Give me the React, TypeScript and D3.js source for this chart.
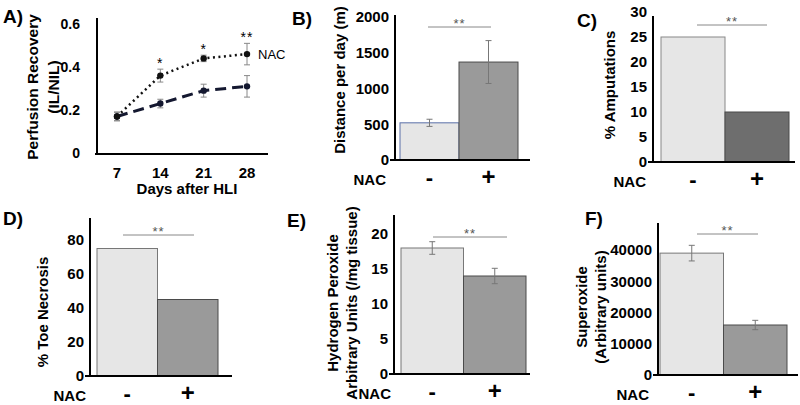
import React from "react";
import * as d3 from "d3";

// ---------- DATA ----------
const days = [7, 14, 21, 28];
const nacMean = [0.17, 0.36, 0.44, 0.46];
const nacErr = [0.02, 0.03, 0.015, 0.05];
const ctrlMean = [0.17, 0.23, 0.29, 0.31];
const ctrlErr = [0.02, 0.02, 0.03, 0.05];
const nacStars = ["", "*", "*", "**"];
const perfTicks = [0, 0.2, 0.4, 0.6];

const groups = ["-", "+"];
const distanceVals = [520, 1370];
const distanceErr = [50, 300];
const distanceTicks = [0, 500, 1000, 1500, 2000];

const amputVals = [25, 10];
const amputTicks = [0, 5, 10, 15, 20, 25, 30];

const necrosisVals = [75, 45];
const necrosisTicks = [0, 20, 40, 60, 80];

const h2o2Vals = [18, 14];
const h2o2Err = [0.9, 1.1];
const h2o2Ticks = [0, 5, 10, 15, 20];

const superoxVals = [39000, 16000];
const superoxErr = [2500, 1500];
const superoxTicks = [0, 10000, 20000, 30000, 40000];

const FONT = "'Liberation Sans', Arial, sans-serif";

type BarPanelProps = {
  letter: string;
  letterX: number;
  letterY: number;
  values: number[];
  errors?: number[];
  ticks: number[];
  yMax: number;
  axisX: number;
  axisTop: number;
  base: number;
  yAtMax: number;
  xEnd: number;
  barL: number;
  barR: number;
  darkFill: string;
  lightStroke: string;
  sig: [number, number, number];
  labels: string[];
  labelX: number[];
  labelY: number;
  nacX: number;
};

function BarPanel(p: BarPanelProps) {
  const y = d3.scaleLinear().domain([0, p.yMax]).range([p.base, p.yAtMax]);
  const x = d3.scaleBand<string>().domain(groups).range([p.barL, p.barR]).paddingInner(0);
  const fills = ["#e6e6e6", p.darkFill];
  const strokes = [p.lightStroke, "#4a4a4a"];
  return (
    <g>
      <text x={p.letterX} y={p.letterY} fontSize={19} fontWeight="bold" fontFamily={FONT}>{p.letter}</text>
      {groups.map((g, i) => (
        <rect key={g} x={x(g)!} y={y(p.values[i])} width={x.bandwidth()} height={p.base - y(p.values[i])}
          fill={fills[i]} stroke={strokes[i]} strokeWidth={1} />
      ))}
      {p.errors && groups.map((g, i) => {
        const cx = x(g)! + x.bandwidth() / 2;
        const y1 = y(p.values[i] + p.errors![i]);
        const y2 = y(p.values[i] - p.errors![i]);
        return (
          <g key={"e" + g} stroke="#777" strokeWidth={1}>
            <line x1={cx} x2={cx} y1={y1} y2={y2} />
            <line x1={cx - 3} x2={cx + 3} y1={y1} y2={y1} />
            <line x1={cx - 3} x2={cx + 3} y1={y2} y2={y2} />
          </g>
        );
      })}
      <line x1={p.axisX} x2={p.axisX} y1={p.axisTop} y2={p.base + 1} stroke="#000" strokeWidth={2} />
      <line x1={p.axisX - 5} x2={p.xEnd} y1={p.base} y2={p.base} stroke="#000" strokeWidth={2} />
      {p.ticks.map((t) => (
        <text key={t} x={p.axisX - 6} y={y(t)} dy="0.35em" textAnchor="end" fontSize={15} fontWeight="bold" fontFamily={FONT}>{d3.format("d")(t)}</text>
      ))}
      <line x1={p.sig[0]} x2={p.sig[1]} y1={p.sig[2]} y2={p.sig[2]} stroke="#888" strokeWidth={1} />
      <text x={(p.sig[0] + p.sig[1]) / 2} y={p.sig[2] + 1} textAnchor="middle" fontSize={13} fill="#555" fontFamily={FONT} letterSpacing={1}>**</text>
      {p.labels.map((l, i) => (
        <text key={i} transform={`translate(${p.labelX[i]},${p.labelY}) rotate(-90)`} textAnchor="middle" dy="0.35em"
          fontSize={15} fontWeight="bold" fontFamily={FONT}>{l}</text>
      ))}
      <text x={p.nacX} y={p.base + 25} textAnchor="end" fontSize={15} fontWeight="bold" fontFamily={FONT}>NAC</text>
      {groups.map((g) => (
        <text key={"l" + g} x={x(g)! + x.bandwidth() / 2} y={p.base + 25} textAnchor="middle" fontSize={g === "+" ? 24 : 22} fontWeight="bold" fontFamily={FONT}>{g}</text>
      ))}
    </g>
  );
}

function PanelA() {
  const x = d3.scaleLinear().domain([7, 28]).range([117, 247]);
  const y = d3.scaleLinear().domain([0, 0.6]).range([153, 24]);
  const line = d3.line<number>().x((_, i) => x(days[i])).y((v) => y(v));
  const navy = "#141830";
  const renderErr = (means: number[], errs: number[], key: string) =>
    means.map((m, i) => {
      const cx = x(days[i]);
      const y1 = y(m + errs[i]);
      const y2 = y(m - errs[i]);
      return (
        <g key={key + i} stroke="#888" strokeWidth={1}>
          <line x1={cx} x2={cx} y1={y1} y2={y2} />
          <line x1={cx - 3} x2={cx + 3} y1={y1} y2={y1} />
          <line x1={cx - 3} x2={cx + 3} y1={y2} y2={y2} />
        </g>
      );
    });
  return (
    <g>
      <text x={3} y={23} fontSize={19} fontWeight="bold" fontFamily={FONT}>A)</text>
      {renderErr(ctrlMean, ctrlErr, "c")}
      {renderErr(nacMean, nacErr, "n")}
      <path d={line(ctrlMean)!} fill="none" stroke={navy} strokeWidth={3} strokeDasharray="11,6" />
      <path d={line(nacMean)!} fill="none" stroke="#111" strokeWidth={2.5} strokeDasharray="2,3.5" />
      {ctrlMean.map((v, i) => (
        <circle key={"cc" + i} cx={x(days[i])} cy={y(v)} r={3.2} fill={navy} />
      ))}
      {nacMean.map((v, i) => (
        <circle key={"nc" + i} cx={x(days[i])} cy={y(v)} r={3.2} fill="#111" />
      ))}
      {nacStars.map((s, i) => (
        <text key={"s" + i} x={x(days[i])} y={y(nacMean[i] + nacErr[i]) - 1} textAnchor="middle" fontSize={14} fontFamily={FONT} letterSpacing={1}>{s}</text>
      ))}
      <text x={258} y={y(nacMean[3])} dy="0.35em" fontSize={13} fontFamily={FONT}>NAC</text>
      <line x1={97} x2={97} y1={18} y2={155} stroke="#000" strokeWidth={2} />
      <line x1={95} x2={268} y1={154} y2={154} stroke="#000" strokeWidth={2} />
      {perfTicks.map((t) => (
        <text key={t} x={80} y={y(t)} dy="0.35em" textAnchor="end" fontSize={14} fontWeight="bold" fontFamily={FONT}>{t === 0 ? "0" : d3.format(".1f")(t)}</text>
      ))}
      {days.map((d) => (
        <text key={d} x={x(d)} y={178} textAnchor="middle" fontSize={15} fontWeight="bold" fontFamily={FONT}>{d}</text>
      ))}
      <text x={187} y={189} dy="0.35em" textAnchor="middle" fontSize={15} fontWeight="bold" fontFamily={FONT}>Days after HLI</text>
      <text transform="translate(33,87) rotate(-90)" dy="0.35em" textAnchor="middle" fontSize={15.5} fontWeight="bold" fontFamily={FONT}>Perfusion Recovery</text>
      <text transform="translate(54,87) rotate(-90)" dy="0.35em" textAnchor="middle" fontSize={15.5} fontWeight="bold" fontFamily={FONT}>(IL/NIL)</text>
    </g>
  );
}

export default function App() {
  return (
    <svg width={800} height={405} style={{ position: "absolute", left: 0, top: 0, background: "#fff" }}>
      <rect width={800} height={405} fill="#fff" />
      <PanelA />
      <BarPanel letter="B)" letterX={292} letterY={25} values={distanceVals} errors={distanceErr} ticks={distanceTicks}
        yMax={2000} axisX={395} axisTop={15} base={160} yAtMax={17} xEnd={530} barL={400} barR={518}
        darkFill="#9a9a9a" lightStroke="#5a6fa8" sig={[428, 491, 27]} labels={["Distance per day (m)"]} labelX={[340]}
        labelY={80} nacX={386} />
      <BarPanel letter="C)" letterX={577} letterY={27} values={amputVals} ticks={amputTicks}
        yMax={30} axisX={653} axisTop={16} base={162} yAtMax={12} xEnd={795} barL={661} barR={789}
        darkFill="#6e6e6e" lightStroke="#888" sig={[697, 767, 25]} labels={["% Amputations"]} labelX={[610]}
        labelY={85} nacX={646} />
      <BarPanel letter="D)" letterX={3} letterY={225} values={necrosisVals} ticks={necrosisTicks}
        yMax={80} axisX={90} axisTop={218} base={376} yAtMax={240} xEnd={232} barL={97} barR={218}
        darkFill="#9a9a9a" lightStroke="#777" sig={[123, 194, 235]} labels={["% Toe Necrosis"]} labelX={[43]}
        labelY={312} nacX={86} />
      <BarPanel letter="E)" letterX={287} letterY={227} values={h2o2Vals} errors={h2o2Err} ticks={h2o2Ticks}
        yMax={20} axisX={394} axisTop={215} base={374} yAtMax={234} xEnd={530} barL={401} barR={526}
        darkFill="#9a9a9a" lightStroke="#777" sig={[433, 507, 237]} labels={["Hydrogen Peroxide", "Arbitrary Units (/mg tissue)"]}
        labelX={[333, 352]} labelY={303} nacX={391} />
      <BarPanel letter="F)" letterX={585} letterY={225} values={superoxVals} errors={superoxErr} ticks={superoxTicks}
        yMax={40000} axisX={658} axisTop={223} base={375} yAtMax={250} xEnd={798} barL={660} barR={787}
        darkFill="#9a9a9a" lightStroke="#777" sig={[697, 758, 234]} labels={["Superoxide", "(Arbitrary units)"]}
        labelX={[582, 601]} labelY={307} nacX={649} />
    </svg>
  );
}
